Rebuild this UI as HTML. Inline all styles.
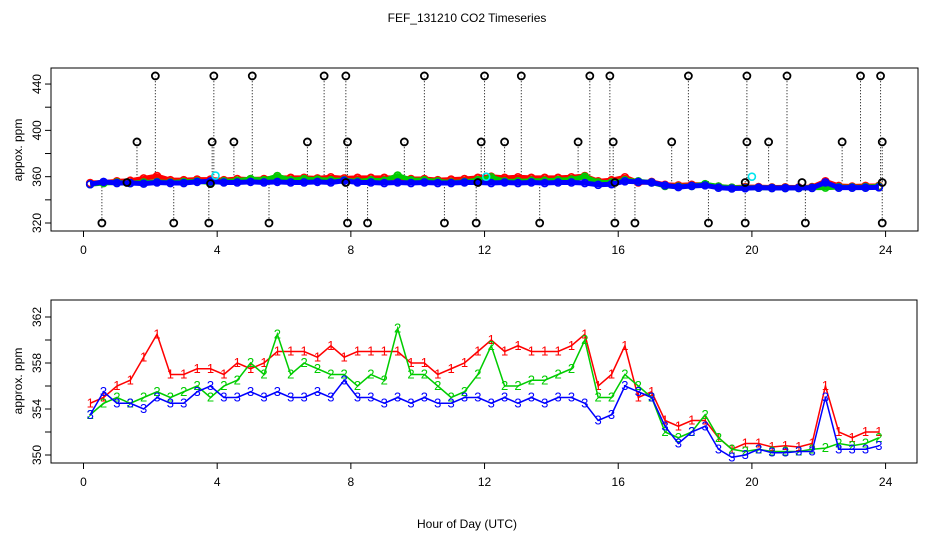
<!DOCTYPE html>
<html><head><meta charset="utf-8">
<style>
html,body{margin:0;padding:0;background:#fff;}
svg{display:block;font-family:"Liberation Sans",sans-serif;}
</style></head>
<body>
<svg id="c" width="936" height="540" viewBox="0 0 936 540" xmlns="http://www.w3.org/2000/svg">
<text x="467" y="22" text-anchor="middle" font-size="12">FEF_131210  CO2 Timeseries</text>
<text x="467" y="528" text-anchor="middle" font-size="12">Hour of Day (UTC)</text>
<text transform="translate(22,150) rotate(-90)" text-anchor="middle" font-size="12">appox. ppm</text>
<text transform="translate(22,381) rotate(-90)" text-anchor="middle" font-size="12">approx. ppm</text>
<rect x="51" y="68" width="867" height="163" fill="none" stroke="#000"/>
<rect x="51" y="300" width="866" height="163" fill="none" stroke="#000"/>
<g id="gtop"></g>
<g id="gbot"></g>
</svg>
<script>
const hours=[0.2,0.6,1.0,1.4,1.8,2.2,2.6,3.0,3.4,3.8,4.2,4.6,5.0,5.4,5.8,6.2,6.6,7.0,7.4,7.8,8.2,8.6,9.0,9.4,9.8,10.2,10.6,11.0,11.4,11.8,12.2,12.6,13.0,13.4,13.8,14.2,14.6,15.0,15.4,15.8,16.2,16.6,17.0,17.4,17.8,18.2,18.6,19.0,19.4,19.8,20.2,20.6,21.0,21.4,21.8,22.2,22.6,23.0,23.4,23.8];
const series1=[354.5,355,356,356.5,358.5,360.5,357,357,357.5,357.5,357,358,357.5,358,359,359,359,358.5,359.5,358.5,359,359,359,359,358,358,357,357.5,358,359,360,359,359.5,359,359,359,359.5,360.5,356,357,359.5,355,355.5,353,352.5,353,353,351.5,350.5,351,351,350.7,350.8,350.7,351,356,352,351.5,352,352];
const series2=[353.5,354.5,355,354.5,355,355.5,355,355.5,356,355,356,356.5,358,357,360.5,357,358,357.5,357,357,356,357,356.5,361,357,357,356,355,355.5,357,359.5,356,356,356.5,356.5,357,357.5,360,355,355,357,356,355,352,351.5,352,353.5,351.5,350.5,350.3,350.5,350.3,350.3,350.3,350.5,350.6,351,350.8,351,351.5];
const series3=[353.5,355.5,354.5,354.5,354,355,354.5,354.5,355.5,356,355,355,355.5,355,355.5,355,355,355.5,355,356.5,355,355,354.5,355,354.5,355,354.5,354.5,355,355,354.5,355,354.5,355,354.5,355,355,354.5,353,353.5,356,355.5,355,352.5,351,352,352.5,350.5,349.8,350,350.5,350.2,350.2,350.3,350.3,355,350.5,350.5,350.5,350.8];
const spikeHours=[2.15,3.9,5.05,7.2,7.85,10.2,12.0,13.1,15.15,15.75,18.1,19.85,21.05,23.25,23.85,1.6,3.85,4.5,6.7,7.9,9.6,11.9,12.6,14.8,15.85,17.6,19.85,20.5,22.7,23.9,0.55,2.7,3.75,5.55,7.9,8.5,10.8,11.75,13.65,15.9,16.5,18.7,19.8,21.6,23.9];
const spikeValues=[447,447,447,447,447,447,447,447,447,447,447,447,447,447,447,390,390,390,390,390,390,390,390,390,390,390,390,390,390,390,320,320,320,320,320,320,320,320,320,320,320,320,320,320,320];
const baseHours=[1.3,3.8,7.85,11.8,15.9,19.8,21.5,23.9];
const baseValues=[355,354,355,355,355,355,355,355];
const cyanHours=[3.95,12.05,20.0];
const cyanValues=[361,360,360];
const topTicks=[320,340,360,380,400,420,440];
const topLabels=[320,360,400,440];
const botTicks=[350,352,354,356,358,360,362];
const botLabels=[350,354,358,362];
const xTicks=[0,4,8,12,16,20,24];

const NS="http://www.w3.org/2000/svg";
const X=h=>83.5+h*33.42;
const YT=v=>223-(v-320)*1.158;
const YB=v=>455-(v-350)*11.5;
function mk(p,tag,at){const e=document.createElementNS(NS,tag);for(const k in at)e.setAttribute(k,at[k]);p.appendChild(e);return e;}
const gTop=document.getElementById('gtop'), gBot=document.getElementById('gbot');

function axes(g,ticksY,labelsY,Yf,xAxisY,left,pre){
  xTicks.forEach(t=>{
    const l=mk(g,'line',{x1:X(t),x2:X(t),y1:xAxisY,y2:xAxisY+6,stroke:'#000'});
    
    
    const tx=mk(g,'text',{x:X(t),y:xAxisY+23,'text-anchor':'middle','font-size':12});
    tx.textContent=t;
    
    
  });
  ticksY.forEach(t=>{
    const l=mk(g,'line',{x1:left-6,x2:left,y1:Yf(t),y2:Yf(t),stroke:'#000'});
    
    
  });
  labelsY.forEach(t=>{
    const tx=mk(g,'text',{transform:`translate(${left-10},${Yf(t)}) rotate(-90)`,'text-anchor':'middle','font-size':12});
    tx.textContent=t;
    
    
  });
}
axes(gTop,topTicks,topLabels,YT,231,51,'top');
axes(gBot,botTicks,botLabels,YB,463,51,'bottom');

spikeHours.forEach((h,i)=>{
  const l=mk(gTop,'line',{x1:X(h),x2:X(h),y1:YT(356),y2:YT(spikeValues[i]),stroke:'#000','stroke-dasharray':'1,2'});
  
  
});
const cols=['#ff0000','#00cc00','#0000ff'];
[series1,series2,series3].forEach((s,k)=>{
  const pl=mk(gTop,'polyline',{points:s.map((v,i)=>X(hours[i])+','+YT(v)).join(' '),fill:'none',stroke:cols[k],'stroke-width':5,'stroke-linejoin':'round'});
  
  
  s.forEach((v,i)=>{
    const c=mk(gTop,'circle',{cx:X(hours[i]),cy:YT(v),r:3.5,fill:'none',stroke:cols[k],'stroke-width':1.6});
    
    
  });
});
spikeHours.forEach((h,i)=>{
  const c=mk(gTop,'circle',{cx:X(h),cy:YT(spikeValues[i]),r:3.5,fill:'none',stroke:'#000','stroke-width':1.8});
  
  
});
baseHours.forEach((h,i)=>{
  const c=mk(gTop,'circle',{cx:X(h),cy:YT(baseValues[i]),r:3.5,fill:'none',stroke:'#000','stroke-width':1.8});
  
  
});
cyanHours.forEach((h,i)=>{
  const c=mk(gTop,'circle',{cx:X(h),cy:YT(cyanValues[i]),r:3.5,fill:'none',stroke:'#00e5ee','stroke-width':1.6});
  
  
});

[series1,series2,series3].forEach((s,k)=>{
  const pl=mk(gBot,'polyline',{points:s.map((v,i)=>X(hours[i])+','+YB(v)).join(' '),fill:'none',stroke:cols[k],'stroke-width':1.5});
  
  
  s.forEach((v,i)=>{
    const t=mk(gBot,'text',{x:X(hours[i]),y:YB(v)+4,'text-anchor':'middle','font-size':13,fill:cols[k]});
    t.textContent=String(k+1);
    
    
  });
});
</script>
</body></html>
